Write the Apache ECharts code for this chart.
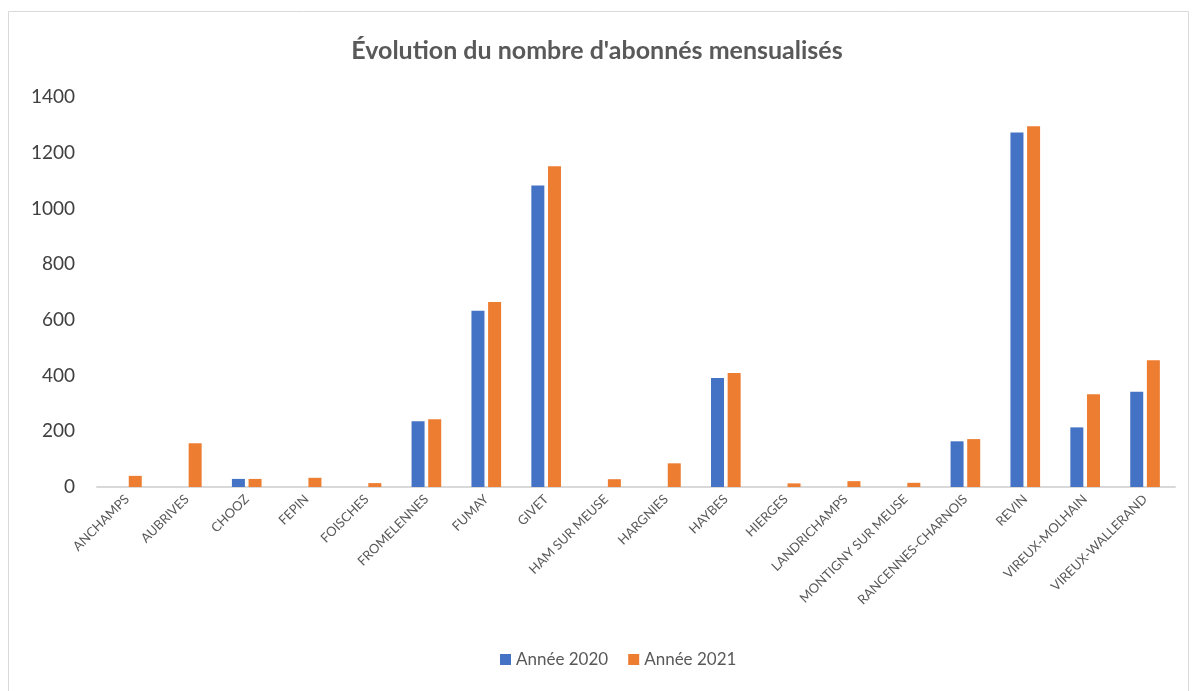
<!DOCTYPE html>
<html>
<head>
<meta charset="utf-8">
<script src="https://cdn.jsdelivr.net/npm/echarts@6/dist/echarts.min.js"></script>
<style>
html,body{margin:0;padding:0;background:#fff;}
#chart{width:1194px;height:691px;}
</style>
</head>
<body>
<div id="chart"></div>
<script>
const categories = ["ANCHAMPS","AUBRIVES","CHOOZ","FEPIN","FOISCHES","FROMELENNES","FUMAY","GIVET","HAM SUR MEUSE","HARGNIES","HAYBES","HIERGES","LANDRICHAMPS","MONTIGNY SUR MEUSE","RANCENNES-CHARNOIS","REVIN","VIREUX-MOLHAIN","VIREUX-WALLERAND"];
const annee2020 = [0,0,29,0,0,236,633,1082,0,0,391,0,0,0,164,1273,214,342];
const annee2021 = [40,157,29,33,14,243,664,1151,28,85,409,13,21,15,172,1295,333,455];
const yTicks = {min:0, max:1400, interval:200};

const chart = echarts.init(document.getElementById('chart'));
const font = 'Lato, "Open Sans", sans-serif';
chart.setOption({
  animation:false,
  textStyle:{fontFamily:font},
  graphic:[{type:'rect',shape:{x:8.5,y:11.5,width:1180,height:700},style:{fill:'none',stroke:'#d9d9d9',lineWidth:1},silent:true,z:-1}],
  title:{text:"Évolution du nombre d'abonnés mensualisés",left:'center',top:33,
    textStyle:{fontFamily:font,fontSize:25,fontWeight:'bold',color:'#595959'}},
  legend:{bottom:18,left:495,itemWidth:11,itemHeight:11,itemGap:20,icon:'rect',
    textStyle:{fontFamily:font,fontSize:17,color:'#595959'},
    data:['Année 2020','Année 2021']},
  grid:{left:97,right:19,top:97,bottom:204,containLabel:false},
  xAxis:{type:'category',data:categories,
    axisLine:{lineStyle:{color:'#d9d9d9',width:2}},
    axisTick:{show:false},
    axisLabel:{interval:0,rotate:45,fontSize:13,color:'#595959',fontFamily:font,margin:10}},
  yAxis:{type:'value',min:yTicks.min,max:yTicks.max,interval:yTicks.interval,
    axisLine:{show:false},axisTick:{show:false},splitLine:{show:false},
    axisLabel:{fontSize:19,color:'#404040',fontFamily:font,margin:22,formatter:function(v){return String(v);}}},
  series:[
    {name:'Année 2020',type:'bar',data:annee2020,barWidth:13,barGap:'28%',
     itemStyle:{color:'#4472c4'}},
    {name:'Année 2021',type:'bar',data:annee2021,barWidth:13,
     itemStyle:{color:'#ed7d31'}}
  ]
});
</script>
</body>
</html>
